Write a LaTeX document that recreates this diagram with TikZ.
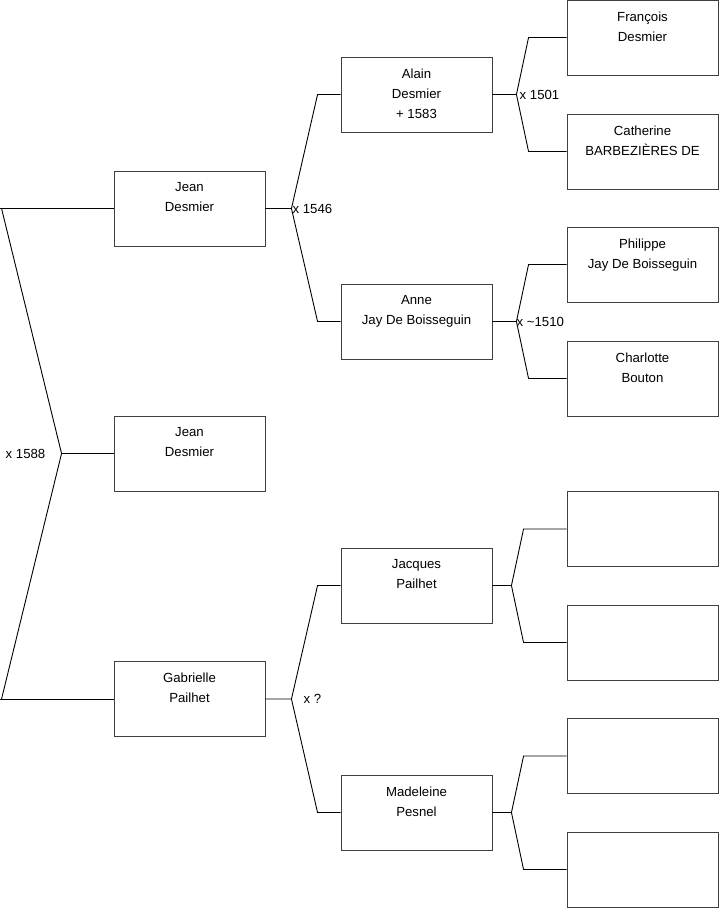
\documentclass[tikz,border=0pt]{standalone}
\usepackage{fontspec}
\setmainfont{Liberation Sans}
\usetikzlibrary{positioning,calc}

\begin{document}
\begin{tikzpicture}[x=1pt, y=-1pt, every node/.style={font=\fontsize{13.2}{20}\selectfont},
  person/.style={draw=black!75, line width=0.9pt, minimum width=151pt, minimum height=75pt, inner sep=0pt},
  who/.style={anchor=north, align=center, inner sep=0pt, yshift=-12pt},
  link/.style={line width=0.9pt},
  wed/.style={anchor=west, inner sep=1pt}]
\useasboundingbox (0,0) rectangle (719,908);

% generation 1
\node[person] (jean) at (189.5,208.5) {};
\node[person] (jean2) at (189.5,453.5) {};
\node[person] (gabrielle) at (189.5,699) {};
\node[who] (jeant) at (jean.north) {Jean\\Desmier};
\node[who] (jean2t) at (jean2.north) {Jean\\Desmier};
\node[who] (gabriellet) at (gabrielle.north) {Gabrielle\\Pailhet};

% generation 2
\node[person] (alain) at (416.5,94.5) {};
\node[person] (anne) at (416.5,321.5) {};
\node[person] (jacques) at (416.5,585.5) {};
\node[person] (madeleine) at (416.5,812.5) {};
\node[who] (alaint) at (alain.north) {Alain\\Desmier\\+ 1583};
\node[who] (annet) at (anne.north) {Anne\\Jay De Boisseguin};
\node[who] (jacquest) at (jacques.north) {Jacques\\Pailhet};
\node[who] (madeleinet) at (madeleine.north) {Madeleine\\Pesnel};

% generation 3
\node[person] (francois) at (642.5,37.5) {};
\node[person] (catherine) at (642.5,151.5) {};
\node[person] (philippe) at (642.5,264.5) {};
\node[person] (charlotte) at (642.5,378.5) {};
\node[person] (jacquesf) at (642.5,529) {};
\node[person] (jacquesm) at (642.5,642.5) {};
\node[person] (madeleinef) at (642.5,756) {};
\node[person] (madeleinem) at (642.5,869.5) {};
\node[who] (francoist) at (francois.north) {François\\Desmier};
\node[who] (catherinet) at (catherine.north) {Catherine\\BARBEZIÈRES DE};
\node[who] (philippet) at (philippe.north) {Philippe\\Jay De Boisseguin};
\node[who] (charlottet) at (charlotte.north) {Charlotte\\Bouton};

% couples
\coordinate (rootx) at ([xshift=-52pt]jean2.west);
\draw[link] (jean.west) -- ([xshift=-114pt]jean.west);
\draw[link] ([xshift=-112pt]jean.west) -- (rootx) -- ([xshift=-112pt]gabrielle.west);
\draw[link] ([xshift=-114pt]gabrielle.west) -- (gabrielle.west);
\draw[link] (rootx) -- (jean2.west);
\node[wed, anchor=east] (rootw) at ([xshift=-15pt]rootx) {x 1588};

\coordinate (jeanx) at ([xshift=26pt]jean.east);
\draw[link] (jean.east) -- (jeanx) -- ([xshift=-23pt]alain.west) -- (alain.west);
\draw[link] (jeanx) -- ([xshift=-23pt]anne.west) -- (anne.west);
\node[wed] (jeanw) at (jeanx) {x 1546};

\coordinate (gabriellex) at ([xshift=26pt]gabrielle.east);
\draw[link] (gabrielle.east) -- (gabriellex) -- ([xshift=-23pt]jacques.west) -- (jacques.west);
\draw[link] (gabriellex) -- ([xshift=-23pt]madeleine.west) -- (madeleine.west);
\node[wed] (gabriellew) at ([xshift=11pt]gabriellex) {x ?};

\coordinate (alainx) at ([xshift=24pt]alain.east);
\draw[link] (alain.east) -- (alainx) -- ([xshift=-38pt]francois.west) -- (francois.west);
\draw[link] (alainx) -- ([xshift=-38pt]catherine.west) -- (catherine.west);
\node[wed] (alainw) at ([xshift=2pt]alainx) {x 1501};

\coordinate (annex) at ([xshift=24pt]anne.east);
\draw[link] (anne.east) -- (annex) -- ([xshift=-38pt]philippe.west) -- (philippe.west);
\draw[link] (annex) -- ([xshift=-38pt]charlotte.west) -- (charlotte.west);
\node[wed] (annew) at ([xshift=-1pt]annex) {x \textasciitilde1510};

\coordinate (jacquesx) at ([xshift=19pt]jacques.east);
\draw[link] (jacques.east) -- (jacquesx) -- ([xshift=-43pt]jacquesf.west) -- (jacquesf.west);
\draw[link] (jacquesx) -- ([xshift=-43pt]jacquesm.west) -- (jacquesm.west);

\coordinate (madeleinex) at ([xshift=19pt]madeleine.east);
\draw[link] (madeleine.east) -- (madeleinex) -- ([xshift=-43pt]madeleinef.west) -- (madeleinef.west);
\draw[link] (madeleinex) -- ([xshift=-43pt]madeleinem.west) -- (madeleinem.west);
\end{tikzpicture}
\end{document}
